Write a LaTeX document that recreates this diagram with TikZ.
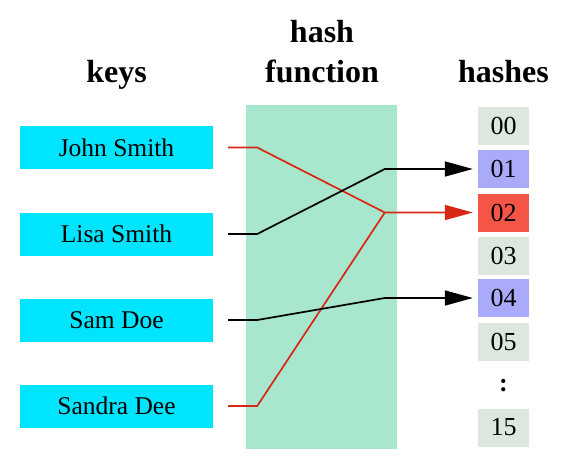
\documentclass[tikz,border=0pt]{standalone}
\usepackage{fontspec}
\setmainfont{Liberation Serif}
\usetikzlibrary{arrows.meta,calc}
\definecolor{keycyan}{RGB}{0,229,255}
\definecolor{hashfn}{RGB}{169,230,206}
\definecolor{hgray}{RGB}{220,232,222}
\definecolor{hblue}{RGB}{170,170,250}
\definecolor{hred}{RGB}{245,85,70}
\definecolor{redline}{RGB}{215,40,20}
\begin{document}
\begin{tikzpicture}[x=1pt,y=-1pt,
  keybox/.style={fill=keycyan, minimum width=193pt, minimum height=43pt, inner sep=0pt, font=\fontsize{25.5}{30}\selectfont},
  hbox/.style={fill=hgray, minimum width=51pt, minimum height=38pt, inner sep=0pt, font=\fontsize{26}{30}\selectfont},
  title/.style={font=\fontsize{32}{40}\selectfont\bfseries, anchor=base, inner sep=0pt},
  link/.style={line width=1.7pt, -{Triangle[length=28pt,width=15pt]}},
]
\useasboundingbox (0,0) rectangle (584,467);
\fill[white] (0,0) rectangle (584,467);

% titles
\node[title] (tkeys) at (116.5,82) {keys};
\node[title] (thash) at (322,42) {hash};
\node[title] (tfun) at (322,82) {function};
\node[title] (thashes) at (503.5,82) {hashes};

% hash function block
\node[fill=hashfn, minimum width=151pt, minimum height=344pt, inner sep=0pt] (hf) at (321.5,277) {};

% keys
\node[keybox] (john) at (116.5,147.5) {John Smith};
\node[keybox] (lisa) at (116.5,234) {Lisa Smith};
\node[keybox] (sam) at (116.5,320) {Sam Doe};
\node[keybox] (sandra) at (116.5,406) {Sandra Dee};

% hashes
\node[hbox] (h00) at (503.5,126) {00};
\node[hbox, fill=hblue] (h01) at (503.5,169) {01};
\node[hbox, fill=hred] (h02) at (503.5,212.5) {02};
\node[hbox] (h03) at (503.5,256) {03};
\node[hbox, fill=hblue] (h04) at (503.5,298) {04};
\node[hbox] (h05) at (503.5,342) {05};
\node[font=\fontsize{26}{30}\selectfont\bfseries, inner sep=0pt] (hdots) at (503.5,386) {:};
\node[hbox] (h15) at (503.5,427.5) {15};

% links
\draw[link, redline] ([xshift=15pt]john.east) -- ++(29,0) -- ($(h02.west)+(-93,0)$) -- ([xshift=-5pt]h02.west);
\draw[line width=1.7pt, redline] ([xshift=15pt]sandra.east) -- ++(29,0) -- ($(h02.west)+(-93,0)$);
\draw[link, black] ([xshift=15pt]lisa.east) -- ++(29,0) -- ($(h01.west)+(-93,0)$) -- ([xshift=-5pt]h01.west);
\draw[link, black] ([xshift=15pt]sam.east) -- ++(29,0) -- ($(h04.west)+(-93,0)$) -- ([xshift=-5pt]h04.west);
\end{tikzpicture}
\end{document}
